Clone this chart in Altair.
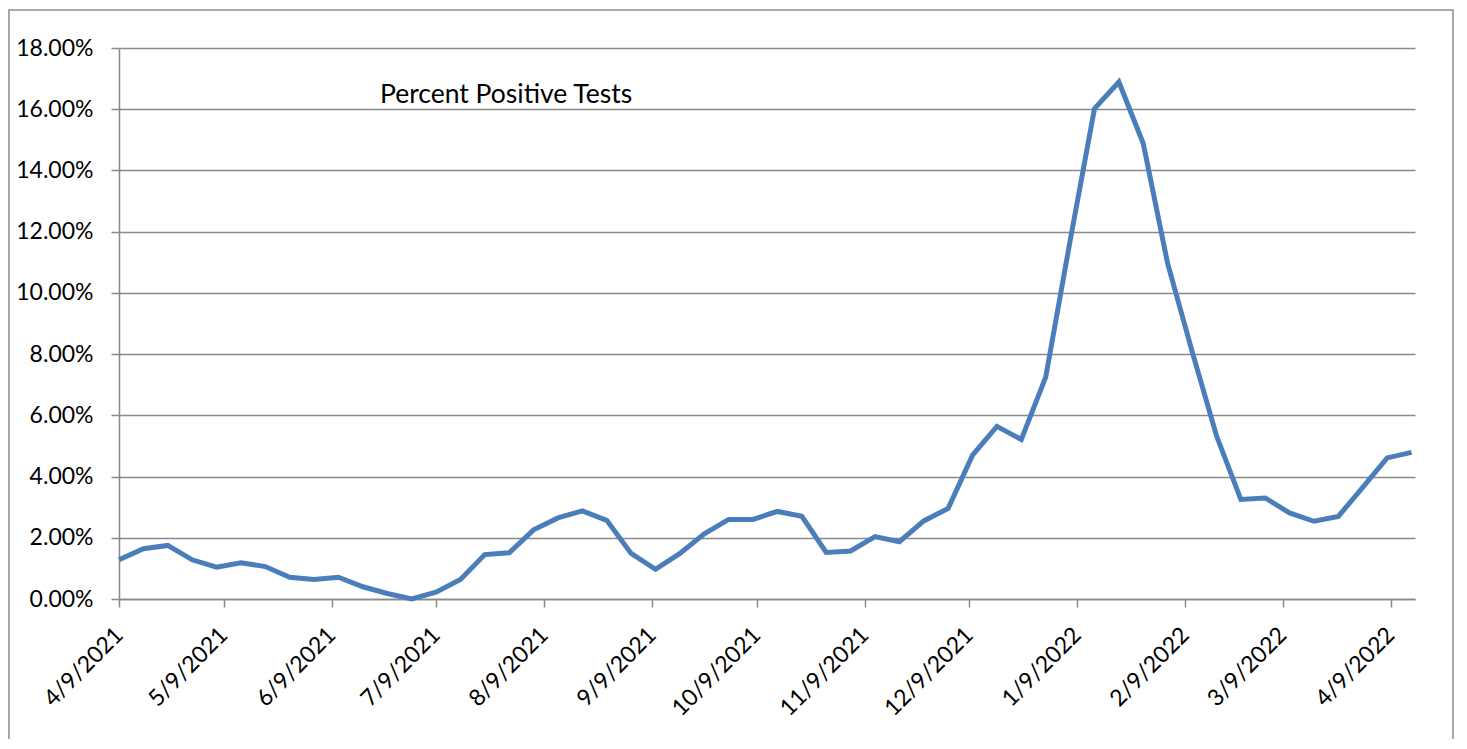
import altair as alt
import pandas as pd

dates = [
    "2021-04-09", "2021-04-16", "2021-04-23", "2021-04-30", "2021-05-07", "2021-05-14",
    "2021-05-21", "2021-05-28", "2021-06-04", "2021-06-11", "2021-06-18", "2021-06-25",
    "2021-07-02", "2021-07-09", "2021-07-16", "2021-07-23", "2021-07-30", "2021-08-06",
    "2021-08-13", "2021-08-20", "2021-08-27", "2021-09-03", "2021-09-10", "2021-09-17",
    "2021-09-24", "2021-10-01", "2021-10-08", "2021-10-15", "2021-10-22", "2021-10-29",
    "2021-11-05", "2021-11-12", "2021-11-19", "2021-11-26", "2021-12-03", "2021-12-10",
    "2021-12-17", "2021-12-24", "2021-12-31", "2022-01-07", "2022-01-14", "2022-01-21",
    "2022-01-28", "2022-02-04", "2022-02-11", "2022-02-18", "2022-02-25", "2022-03-04",
    "2022-03-11", "2022-03-18", "2022-03-25", "2022-04-01", "2022-04-08", "2022-04-15",
]
percent_positive = [
    1.28, 1.64, 1.75, 1.28, 1.04, 1.18, 1.06, 0.71, 0.64, 0.71, 0.40, 0.18,
    0.00, 0.22, 0.64, 1.45, 1.51, 2.26, 2.65, 2.88, 2.57, 1.49, 0.97, 1.49,
    2.13, 2.60, 2.60, 2.86, 2.70, 1.52, 1.57, 2.04, 1.87, 2.55, 2.96, 4.70,
    5.64, 5.21, 7.25, 11.70, 16.02, 16.89, 14.88, 10.96, 8.10, 5.34, 3.25, 3.30,
    2.81, 2.54, 2.70, 3.65, 4.61, 4.79,
]
tick_dates = [
    "2021-04-09", "2021-05-09", "2021-06-09", "2021-07-09", "2021-08-09", "2021-09-09",
    "2021-10-09", "2021-11-09", "2021-12-09", "2022-01-09", "2022-02-09", "2022-03-09",
    "2022-04-09",
]
y_ticks = [0, 0.02, 0.04, 0.06, 0.08, 0.10, 0.12, 0.14, 0.16, 0.18]
title_text = "Percent Positive Tests"

df = pd.DataFrame({"date": dates, "value": [v / 100 for v in percent_positive]})

FONT = "Lato"
GRID = "#898989"

line = alt.Chart(df).mark_line(color="#4a7ebb", strokeWidth=5, strokeJoin="miter").encode(
    x=alt.X(
        "date:T",
        scale=alt.Scale(domain=["2021-04-09T00:00:00", "2022-04-16T00:00:00"], nice=False),
        axis=alt.Axis(
            values=[pd.Timestamp(d).isoformat() for d in tick_dates],
            labelExpr="timeFormat(datum.value, '%-m/%-d/%Y')",
            labelAngle=-45,
            labelAlign="right",
            labelBaseline="middle",
            labelPadding=24,
            tickSize=8,
            grid=False,
            title=None,
        ),
    ),
    y=alt.Y(
        "value:Q",
        scale=alt.Scale(domain=[0, 0.18], nice=False),
        axis=alt.Axis(
            values=y_ticks,
            format=".2%",
            tickSize=8,
            labelPadding=18,
            grid=True,
            title=None,
        ),
    ),
)

label = alt.Chart(pd.DataFrame({"t": [title_text]})).mark_text(
    align="left", baseline="middle", font=FONT, fontSize=26.5, color="#000000"
).encode(text="t:N", x=alt.value(261), y=alt.value(47))

border = alt.Chart(pd.DataFrame({"a": [0]})).mark_rect(
    filled=False, stroke="#8c8c8c", strokeWidth=1.5, clip=False
).encode(x=alt.value(-110), x2=alt.value(1334), y=alt.value(-38), y2=alt.value(700))

chart = alt.layer(border, line, label).properties(
    width=1296,
    height=551,
    autosize=alt.AutoSizeParams(type="none"),
    padding={"left": 111, "top": 40, "right": 40, "bottom": 140},
).configure_view(stroke=None).configure_axis(
    labelFont=FONT,
    labelFontSize=23,
    labelColor="#000000",
    domainColor=GRID,
    domainWidth=1.5,
    tickColor=GRID,
    tickWidth=1.5,
    gridColor=GRID,
    gridWidth=1.5,
)

chart.save("out.html", embed_options={"renderer": "svg", "actions": False})
